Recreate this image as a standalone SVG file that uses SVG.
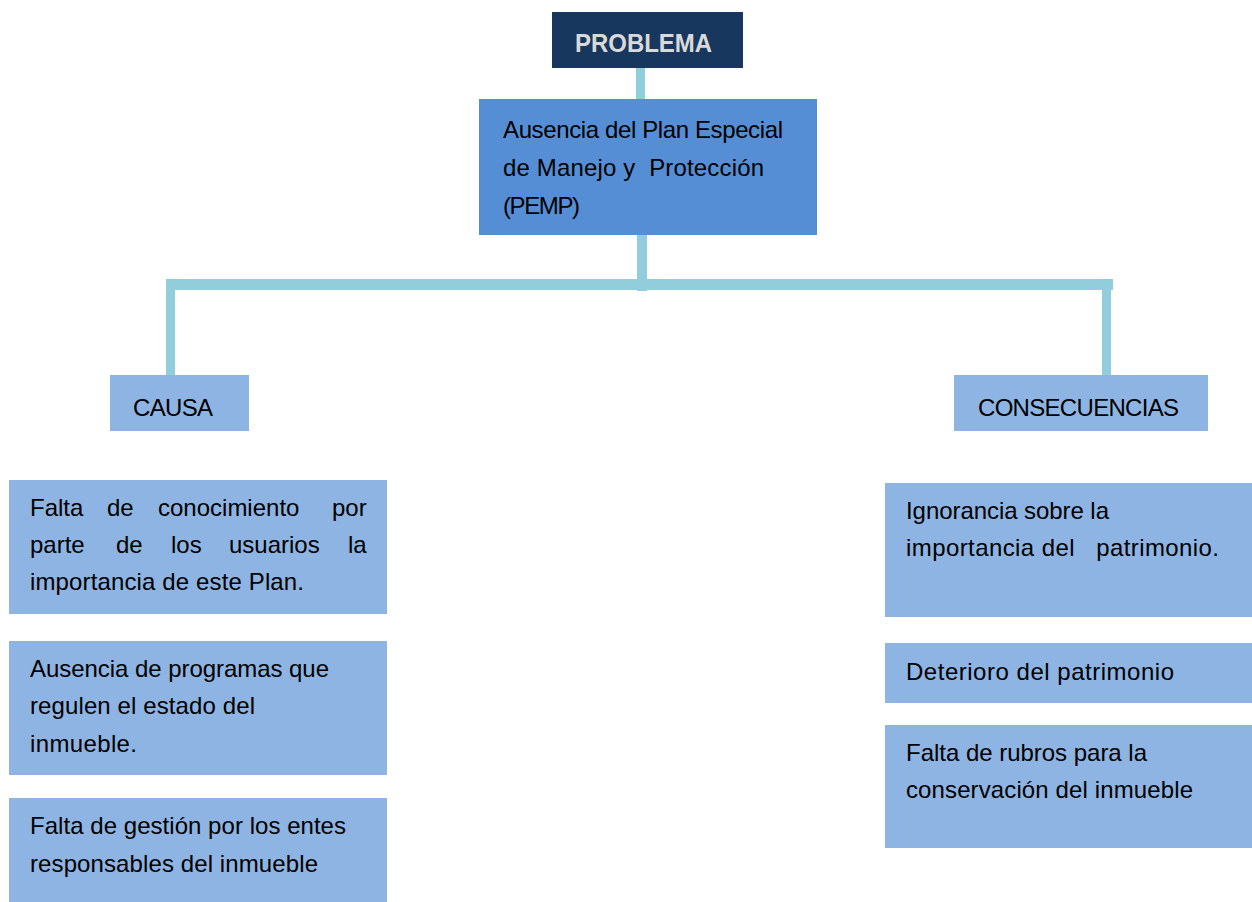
<svg xmlns="http://www.w3.org/2000/svg" width="1252" height="902" viewBox="0 0 1252 902">
<style>
.t{font-family:"Liberation Sans",Arial,sans-serif;font-size:24px;fill:#000}
.lb{fill:#8eb4e3}
.cn{stroke:#92cddc;fill:none;stroke-linecap:butt}
</style>
<rect width="1252" height="902" fill="#fff"/>
<g id="connectors">
<line class="cn" x1="640.5" y1="68" x2="640.5" y2="99" stroke-width="9"/>
<line class="cn" x1="642" y1="235" x2="642" y2="291" stroke-width="10"/>
<line class="cn" x1="166" y1="284.5" x2="1113" y2="284.5" stroke-width="11"/>
<line class="cn" x1="170.5" y1="279" x2="170.5" y2="375" stroke-width="9"/>
<line class="cn" x1="1106.5" y1="279" x2="1106.5" y2="379" stroke-width="9"/>
</g>
<g id="problema">
<rect x="552" y="12" width="191" height="56" fill="#17375e"/>
<text x="575" y="52" font-family="Liberation Sans,Arial,sans-serif" font-weight="bold" font-size="25" fill="#d9d9d9" textLength="137" lengthAdjust="spacingAndGlyphs">PROBLEMA</text>
</g>
<g id="pemp">
<rect x="479" y="99" width="338" height="136" fill="#558ed5"/>
<text class="t" x="503" y="138" textLength="280">Ausencia del Plan Especial</text>
<text class="t" x="503" y="176" xml:space="preserve" textLength="261">de Manejo y  Protección</text>
<text class="t" x="503" y="214" textLength="77">(PEMP)</text>
</g>
<g id="causa">
<rect class="lb" x="110" y="375" width="139" height="56"/>
<text class="t" x="133" y="416" textLength="80">CAUSA</text>
</g>
<g id="consecuencias">
<rect class="lb" x="954" y="375" width="254" height="56"/>
<text class="t" x="978" y="416" textLength="201">CONSECUENCIAS</text>
</g>
<g id="causa1">
<rect class="lb" x="9" y="480" width="378" height="134"/>
<text class="t" y="516"><tspan x="30">Falta</tspan><tspan x="107">de</tspan><tspan x="158">conocimiento</tspan><tspan x="332">por</tspan></text>
<text class="t" y="553"><tspan x="30">parte</tspan><tspan x="116">de</tspan><tspan x="171">los</tspan><tspan x="229">usuarios</tspan><tspan x="348">la</tspan></text>
<text class="t" x="30" y="590" textLength="274">importancia de este Plan.</text>
</g>
<g id="causa2">
<rect class="lb" x="9" y="641" width="378" height="134"/>
<text class="t" x="30" y="677" textLength="299">Ausencia de programas que</text>
<text class="t" x="30" y="714" textLength="225">regulen el estado del</text>
<text class="t" x="30" y="752" textLength="107">inmueble.</text>
</g>
<g id="causa3">
<rect class="lb" x="9" y="798" width="378" height="104"/>
<text class="t" x="30" y="834" textLength="316">Falta de gestión por los entes</text>
<text class="t" x="30" y="872" textLength="288">responsables del inmueble</text>
</g>
<g id="cons1">
<rect class="lb" x="885" y="483" width="367" height="134"/>
<text class="t" x="906" y="519" textLength="203">Ignorancia sobre la</text>
<text class="t" x="906" y="556" xml:space="preserve" textLength="313">importancia del   patrimonio.</text>
</g>
<g id="cons2">
<rect class="lb" x="885" y="643" width="367" height="60"/>
<text class="t" x="906" y="680" textLength="268">Deterioro del patrimonio</text>
</g>
<g id="cons3">
<rect class="lb" x="885" y="725" width="367" height="123"/>
<text class="t" x="906" y="761" textLength="241">Falta de rubros para la</text>
<text class="t" x="906" y="798" textLength="287">conservación del inmueble</text>
</g>
</svg>
